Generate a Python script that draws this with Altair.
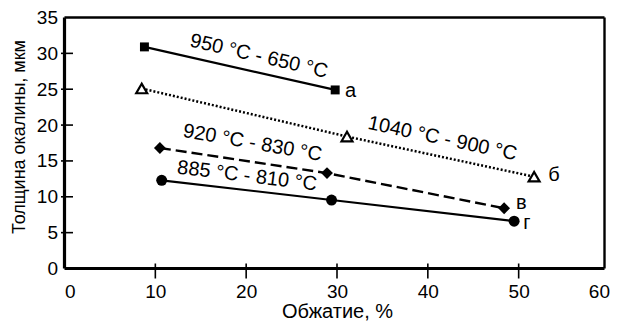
import altair as alt
import pandas as pd

FONT = "Liberation Sans"

# series data (Обжатие %, Толщина окалины мкм)
x_a = [8.8, 29.8]
y_a = [30.9, 24.9]
x_b = [8.5, 31.1, 51.7]
y_b = [25.1, 18.4, 12.8]
x_v = [10.5, 28.9, 48.4]
y_v = [16.8, 13.3, 8.4]
x_g = [10.7, 29.4, 49.5]
y_g = [12.3, 9.55, 6.6]

labels = ["950 °C - 650 °C", "1040 °C - 900 °C", "920 °C - 830 °C", "885 °C - 810 °C"]
label_x = [21.4, 41.6, 20.7, 20.1]
label_y = [29.6, 18.1, 17.5, 12.9]
label_angle = [13, 12, 10, 7]

letters = ["а", "б", "в", "г"]
letter_x = [31.5, 53.9, 50.3, 50.9]
letter_y = [24.8, 13.0, 9.1, 6.3]

x_ticks = [10, 20, 30, 40, 50]
y_ticks = [5, 10, 15, 20, 25, 30]
x_labels = [0, 10, 20, 30, 40, 50, 60]
y_labels = [0, 5, 10, 15, 20, 25, 30, 35]
x_frame_right = 59.45
y_top = 35

W, H = 545, 251

X = alt.X("x:Q", scale=alt.Scale(domain=[0, 60], nice=False, zero=False),
          axis=alt.Axis(values=x_labels, ticks=False, domain=False, grid=False,
                        labelFlush=True, labelFlushOffset=0, labelOverlap=False,
                        labelPadding=14, labelFontSize=19, title="Обжатие, %",
                        titleFontSize=20, titlePadding=0))
Y = alt.Y("y:Q", scale=alt.Scale(domain=[0, 35], nice=False, zero=False),
          axis=alt.Axis(values=y_labels, ticks=False, domain=False, grid=False,
                        labelFlush=False, labelOverlap=False,
                        labelPadding=7, labelFontSize=19, title="Толщина окалины, мкм",
                        titleFontSize=18, titlePadding=8, titleY=119))


def series(xs, ys, shape, size, filled, dash, sw):
    df = pd.DataFrame({"x": xs, "y": ys})
    base = alt.Chart(df).encode(x=X, y=Y)
    line_kw = dict(color="black", strokeWidth=sw)
    if dash:
        line_kw["strokeDash"] = dash
    line = base.mark_line(**line_kw)
    if filled:
        pts = base.mark_point(shape=shape, size=size, filled=True, color="black", opacity=1)
    else:
        pts = base.mark_point(shape=shape, size=size, filled=True, fill="white", stroke="black",
                              strokeWidth=2.2, opacity=1)
    return line + pts


sa = series(x_a, y_a, "square", 80, True, None, 2.2)
sb = series(x_b, y_b, "triangle-up", 120, False, [2, 2], 2.5)
sv = series(x_v, y_v, "diamond", 140, True, [11, 5], 2.4)
sg = series(x_g, y_g, "circle", 120, True, None, 2.2)

lab_df = pd.DataFrame({"x": label_x, "y": label_y, "t": labels, "a": label_angle})
lab = alt.Chart(lab_df).mark_text(font=FONT, fontSize=20, color="black").encode(
    x=X, y=Y, text="t:N", angle=alt.Angle("a:Q", scale=None))

let_df = pd.DataFrame({"x": letter_x, "y": letter_y, "t": letters})
let = alt.Chart(let_df).mark_text(font=FONT, fontSize=20, color="black").encode(
    x=X, y=Y, text="t:N")

xt = alt.Chart(pd.DataFrame({"x": x_ticks})).mark_rule(color="black", strokeWidth=1.6).encode(
    x=X, y=alt.value(H - 5), y2=alt.value(H + 10))
yt = alt.Chart(pd.DataFrame({"y": y_ticks})).mark_rule(color="black", strokeWidth=1.6).encode(
    y=Y, x=alt.value(-3.5), x2=alt.value(8.5))

# frame: left/bottom thick axis lines, top/right thinner box lines
left = alt.Chart(pd.DataFrame({"x": [0], "y": [0], "y2": [y_top]})).mark_rule(
    color="black", strokeWidth=3.2).encode(x=X, y=Y, y2="y2:Q")
right = alt.Chart(pd.DataFrame({"x": [x_frame_right], "y": [0], "y2": [y_top]})).mark_rule(
    color="black", strokeWidth=2.4).encode(x=X, y=Y, y2="y2:Q")
bottom = alt.Chart(pd.DataFrame({"x": [0], "x2": [x_frame_right], "y": [0]})).mark_rule(
    color="black", strokeWidth=3.2).encode(x=X, x2="x2:Q", y=Y)
top = alt.Chart(pd.DataFrame({"x": [0], "x2": [x_frame_right], "y": [y_top]})).mark_rule(
    color="black", strokeWidth=2.4).encode(x=X, x2="x2:Q", y=Y)

chart = alt.layer(xt, yt, left, right, bottom, top, sa, sb, sv, sg, lab, let).properties(
    width=W, height=H,
    background="white",
    autosize=alt.AutoSizeParams(type="none"),
    padding={"left": 56.5, "top": 9.5, "right": 0.5, "bottom": 54.5},
).configure_view(stroke=None).configure_axis(
    labelFont=FONT, labelColor="black",
    titleFont=FONT, titleFontWeight="normal", titleColor="black",
)

chart.save("out.html", embed_options={"renderer": "svg", "actions": False})
